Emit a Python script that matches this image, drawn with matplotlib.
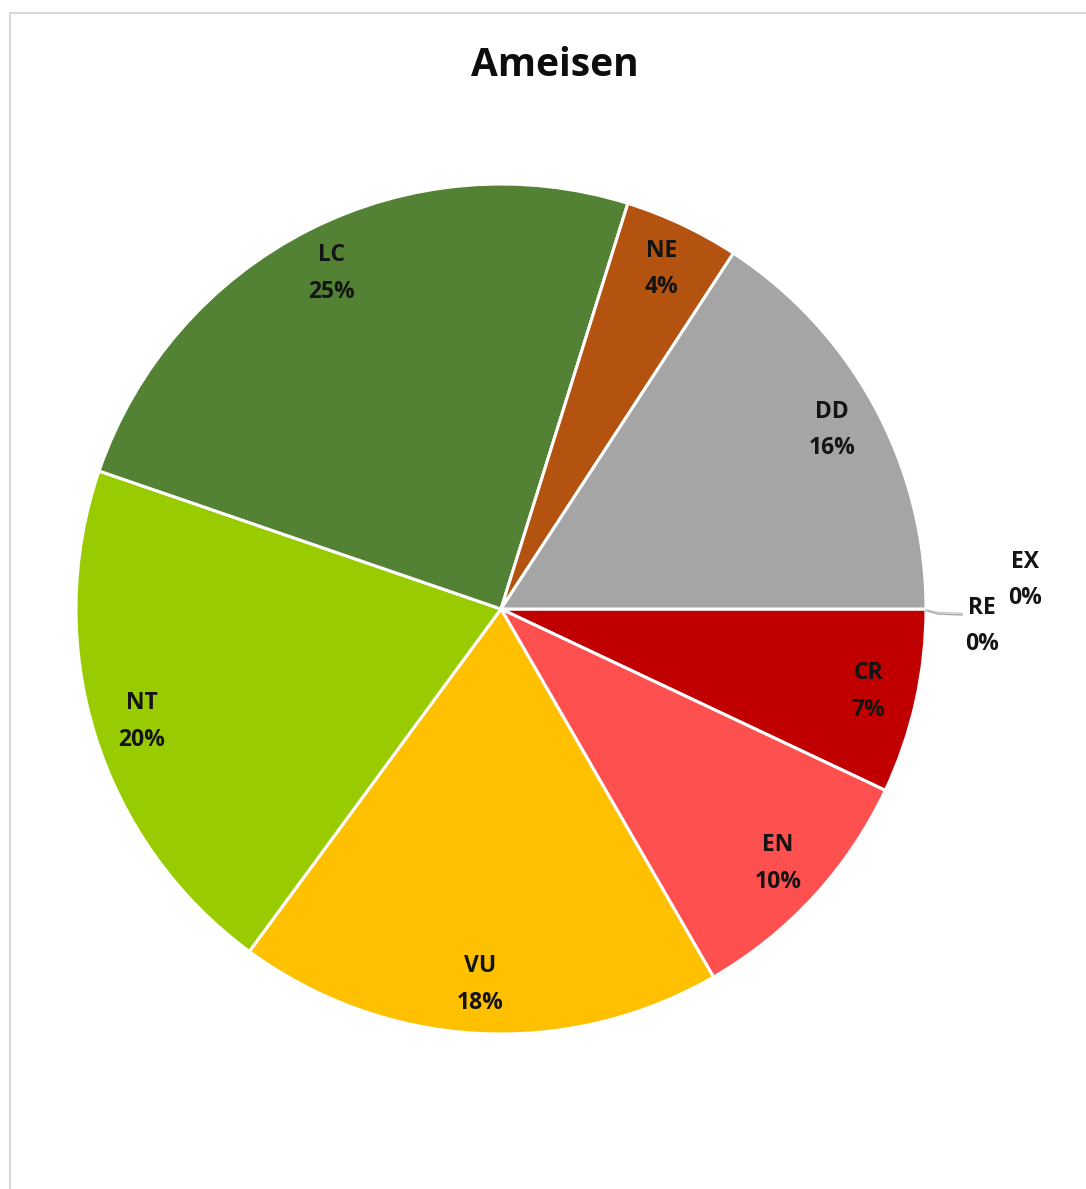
import numpy as np
import matplotlib.pyplot as plt
from matplotlib.patches import Rectangle

# Rote Liste Ameisen: Artenzahl je Kategorie (Reihenfolge im Uhrzeigersinn ab 3 Uhr)
categories = ["EX", "RE", "CR", "EN", "VU", "NT", "LC", "NE", "DD"]
counts = [0, 0, 8, 11, 21, 23, 28, 5, 18]
colors = ["#7F7F7F", "#7F7F7F", "#C00000", "#FF5050", "#FFC000",
          "#99CC00", "#548235", "#B4520F", "#A5A5A5"]

W, H, DPI = 1086, 1189, 100
R_PX = 425          # pie radius in pixels
CX, CY = 501, 609   # pie centre in pixels (from top-left)

plt.rcParams['font.family'] = ['Open Sans', 'DejaVu Sans']

fig = plt.figure(figsize=(W / DPI, H / DPI), dpi=DPI)
fig.patch.set_facecolor("white")

# thin chart-area frame (top and left visible)
fig.patches.append(Rectangle((10 / W, -0.05), 1.2, 1 - 13 / H + 0.05,
                             transform=fig.transFigure, fill=False,
                             edgecolor="#D9D9D9", linewidth=1.5))

ax = fig.add_axes([0, 0, 1, 1])
wedges, _ = ax.pie(counts, colors=colors, startangle=0, counterclock=False,
                   radius=1.0, wedgeprops=dict(edgecolor="white", linewidth=2.2))
ax.set_aspect("auto")
ax.set_xlim(-CX / R_PX, (W - CX) / R_PX)
ax.set_ylim(-(H - CY) / R_PX, CY / R_PX)
ax.axis("off")

total = sum(counts)
txt_kw = dict(ha="center", va="center", fontsize=16.5, fontweight="bold",
              color="#141414", linespacing=1.7)

for name, val, w in zip(categories, counts, wedges):
    label = f"{name}\n{round(100 * val / total)}%"
    if val == 0:
        continue
    mid = np.deg2rad((w.theta1 + w.theta2) / 2)
    r = 0.885
    ax.text(r * np.cos(mid), r * np.sin(mid), label, **txt_kw)

# labels for the empty categories, placed outside with leader lines
outside = {"RE": (1.132, -0.04), "EX": (1.233, 0.068)}
for name, val in zip(categories, counts):
    if val != 0:
        continue
    tx, ty = outside[name]
    ax.text(tx, ty, f"{name}\n{round(100 * val / total)}%", **txt_kw)
ax.plot([1.0, 1.03, 1.085], [-0.004, -0.012, -0.014], color="#A6A6A6", lw=1.0)
ax.plot([1.0, 1.03, 1.085], [-0.002, -0.008, -0.010], color="#BFBFBF", lw=0.8)

fig.text(555 / W, 1 - 66 / H, "Ameisen", ha="center", va="center",
         fontsize=28, fontweight="bold", color="#0D0D0D")

fig.savefig("out.png", dpi=DPI, facecolor="white")
